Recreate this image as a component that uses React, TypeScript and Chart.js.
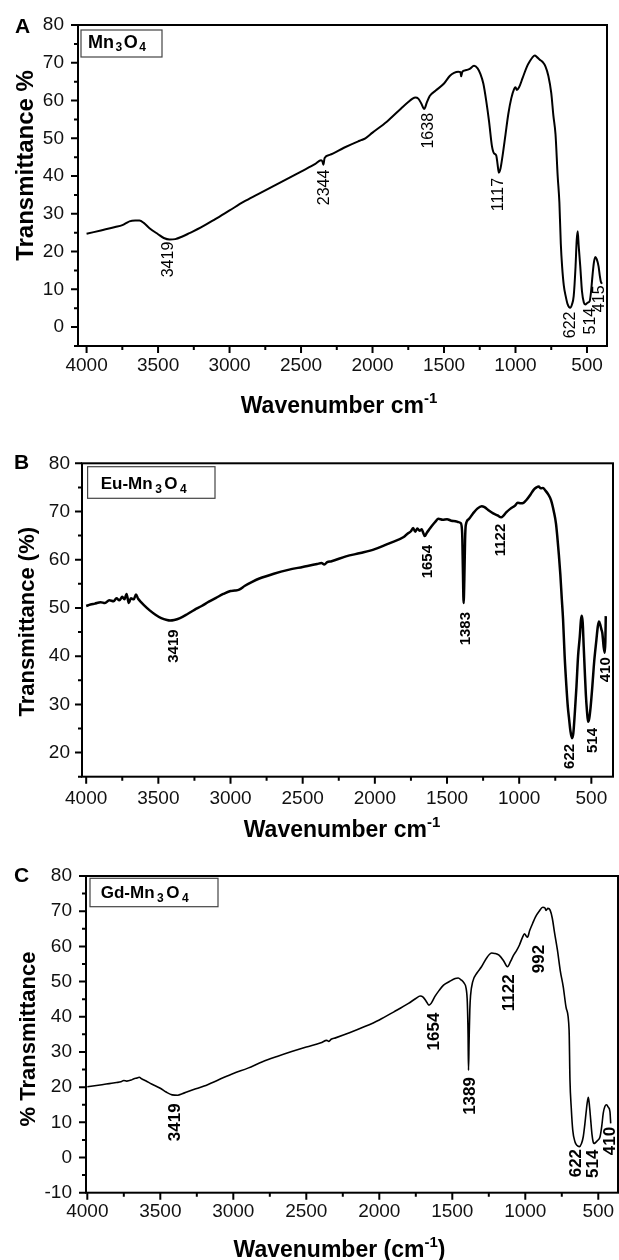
import React, { useEffect, useRef } from 'react';
import { Chart, registerables } from 'chart.js';

Chart.register(...registerables);

const FONT = '"Liberation Sans", Arial, Helvetica, sans-serif';

// ---------- shared tick labels ----------
const xMajorTicks = [4000, 3500, 3000, 2500, 2000, 1500, 1000, 500];
const xMinorTicks = [3750, 3250, 2750, 2250, 1750, 1250, 750];

// ---------- Panel A : Mn3O4 ----------
const aWave = [4000, 3900, 3800, 3750, 3720, 3700, 3660, 3630, 3600, 3560, 3500, 3460, 3419, 3380, 3330, 3280, 3200, 3100, 3000, 2900, 2800, 2700, 2600, 2500, 2400, 2360, 2350, 2344, 2335, 2300, 2200, 2100, 2080, 2050, 2000, 1900, 1800, 1750, 1720, 1700, 1680, 1660, 1638, 1620, 1600, 1560, 1500, 1460, 1430, 1400, 1385, 1380, 1372, 1350, 1320, 1290, 1265, 1245, 1225, 1205, 1185, 1165, 1150, 1135, 1125, 1117, 1105, 1090, 1070, 1050, 1030, 1010, 1000, 990, 975, 950, 920, 900, 880, 865, 850, 830, 810, 790, 770, 750, 735, 720, 705, 693, 683, 674, 662, 649, 635, 618, 605, 593, 580, 572, 565, 558, 547, 535, 522, 512, 495, 481, 470, 464, 452, 442, 432, 419, 410, 403, 395];
const aTrans = [24.7, 25.6, 26.5, 27.0, 27.6, 28.0, 28.2, 28.2, 27.6, 26.2, 24.6, 23.6, 23.2, 23.3, 24.0, 24.9, 26.4, 28.6, 30.9, 33.2, 35.2, 37.2, 39.2, 41.2, 43.2, 44.2, 43.8, 43.0, 44.8, 45.6, 47.5, 49.2, 49.5, 50.0, 51.5, 54.4, 57.9, 59.6, 60.5, 60.8, 60.5, 59.3, 57.8, 59.5, 61.2, 62.6, 64.5, 66.5, 67.3, 67.6, 67.5, 66.4, 67.6, 68.0, 68.4, 69.2, 68.5, 67.0, 64.5, 60.0, 54.5, 48.0, 46.0, 45.5, 43.0, 40.9, 42.0, 45.5, 51.0, 56.5, 60.5, 63.0, 63.5, 62.8, 63.5, 66.0, 69.0, 70.4, 71.5, 71.9, 71.5, 70.8, 70.2, 69.0, 66.5, 62.0, 56.0, 51.0, 40.0, 33.0, 22.0, 16.1, 11.0, 8.2, 6.0, 5.1, 6.0, 8.2, 16.0, 23.0, 25.4, 21.5, 16.1, 9.5, 6.5, 6.0, 6.5, 6.9, 10.0, 12.6, 17.0, 18.6, 18.0, 16.1, 13.5, 12.0, 11.5];
const aYMajor = [0, 10, 20, 30, 40, 50, 60, 70, 80];
const aYMinor = [-5, 5, 15, 25, 35, 45, 55, 65, 75];
const aPeakText = ['3419', '2344', '1638', '1117', '622', '514', '415'];
const aPeakWave = [3423, 2338, 1608, 1119, 616, 476, 411];
const aPeakTrans = [17.9, 37.0, 52.0, 35.1, 0.6, 1.6, 7.5];

// ---------- Panel B : Eu-Mn3O4 ----------
const bWave = [4000, 3970, 3940, 3900, 3870, 3840, 3810, 3790, 3770, 3750, 3735, 3720, 3705, 3690, 3670, 3655, 3640, 3620, 3600, 3560, 3520, 3480, 3440, 3419, 3390, 3350, 3300, 3250, 3200, 3150, 3100, 3050, 3000, 2970, 2940, 2900, 2850, 2800, 2700, 2600, 2500, 2400, 2370, 2350, 2330, 2300, 2200, 2100, 2000, 1900, 1800, 1770, 1750, 1735, 1720, 1705, 1690, 1675, 1665, 1654, 1640, 1620, 1600, 1580, 1560, 1530, 1500, 1470, 1440, 1420, 1405, 1395, 1390, 1385, 1380, 1375, 1370, 1350, 1320, 1290, 1260, 1240, 1210, 1180, 1150, 1125, 1110, 1090, 1060, 1030, 1010, 990, 970, 950, 920, 900, 880, 865, 850, 835, 820, 800, 780, 760, 745, 735, 725, 715, 705, 696, 685, 673, 663, 654, 645, 634, 625, 615, 603, 592, 580, 572, 566, 560, 553, 546, 538, 530, 523, 515, 505, 493, 480, 465, 455, 447, 438, 430, 424, 415, 407, 403, 400];
const bTrans = [50.4, 50.7, 50.9, 51.2, 51.0, 51.6, 51.4, 52.0, 51.6, 52.3, 51.8, 52.9, 51.0, 52.0, 51.8, 52.8, 51.9, 51.2, 50.6, 49.5, 48.6, 47.9, 47.5, 47.4, 47.5, 47.9, 48.7, 49.6, 50.4, 51.3, 52.1, 52.9, 53.5, 53.6, 53.8, 54.6, 55.4, 56.1, 57.1, 57.9, 58.5, 59.1, 59.3, 59.0, 59.5, 59.7, 60.7, 61.4, 62.2, 63.4, 64.7, 65.5, 65.9, 66.6, 65.8, 66.5, 66.0, 66.3, 65.6, 64.9, 65.6, 66.4, 67.2, 67.9, 68.5, 68.3, 68.4, 68.1, 68.0, 67.8, 67.6, 65.5, 58.0, 51.0, 56.0, 64.0, 67.2, 68.4, 69.6, 70.6, 71.1, 70.9, 70.2, 69.6, 69.2, 68.8, 69.1, 69.8, 70.6, 71.2, 71.8, 71.7, 71.8, 72.4, 73.6, 74.5, 75.0, 75.2, 74.8, 74.9, 74.4, 73.6, 72.4, 70.0, 67.5, 64.5, 61.0, 57.0, 52.0, 47.6, 40.0, 33.8, 29.5, 26.9, 24.5, 23.0, 24.0, 28.0, 33.8, 40.0, 44.1, 47.5, 48.4, 47.0, 42.0, 37.2, 32.0, 28.5, 26.4, 27.0, 29.5, 33.8, 39.0, 43.4, 46.2, 47.2, 46.5, 45.5, 44.8, 42.0, 40.7, 43.0, 48.3];
const bYMajor = [20, 30, 40, 50, 60, 70, 80];
const bYMinor = [15, 25, 35, 45, 55, 65, 75];
const bPeakText = ['3419', '1654', '1383', '1122', '622', '514', '410'];
const bPeakWave = [3394, 1631, 1371, 1125, 650, 492, 402];
const bPeakTrans = [42.1, 59.6, 45.7, 64.1, 19.2, 22.5, 37.2];

// ---------- Panel C : Gd-Mn3O4 ----------
const cWave = [4000, 3900, 3850, 3800, 3770, 3750, 3730, 3700, 3680, 3660, 3645, 3625, 3600, 3560, 3500, 3460, 3419, 3380, 3350, 3300, 3250, 3200, 3100, 3000, 2900, 2800, 2700, 2600, 2500, 2400, 2360, 2345, 2330, 2300, 2200, 2100, 2000, 1900, 1800, 1750, 1720, 1700, 1680, 1660, 1645, 1620, 1590, 1560, 1520, 1480, 1460, 1440, 1420, 1405, 1397, 1392, 1389, 1385, 1380, 1375, 1360, 1330, 1300, 1260, 1230, 1210, 1180, 1150, 1122, 1100, 1080, 1060, 1040, 1020, 1005, 995, 985, 970, 950, 930, 905, 880, 865, 858, 845, 830, 815, 800, 780, 760, 740, 720, 700, 694, 685, 675, 660, 645, 630, 615, 603, 592, 584, 576, 568, 560, 552, 543, 535, 530, 520, 505, 488, 476, 466, 455, 443, 432, 420, 415];
const cTrans = [20.1, 20.7, 21.0, 21.3, 21.5, 21.9, 21.7, 22.0, 22.4, 22.6, 22.8, 22.3, 21.8, 20.9, 19.7, 18.6, 17.8, 17.7, 18.1, 18.9, 19.6, 20.3, 22.1, 23.9, 25.4, 27.2, 28.7, 30.1, 31.4, 32.6, 33.3, 33.0, 33.6, 34.0, 35.5, 37.2, 39.1, 41.4, 43.8, 45.2, 45.9, 45.6, 44.5, 43.3, 43.8, 45.7, 47.5, 49.0, 50.0, 50.9, 51.0, 50.5, 49.6, 48.0, 44.0, 35.0, 24.8, 33.0, 42.0, 46.0, 50.0, 52.5, 54.2, 57.0, 58.1, 58.0, 57.5, 56.0, 54.2, 55.8, 57.5, 58.8, 60.4, 62.5, 63.6, 63.0, 62.6, 64.5, 66.5, 68.4, 70.0, 71.1, 70.9, 70.2, 70.8, 70.3, 68.0, 64.0, 59.0, 53.0, 48.5, 42.5, 36.2, 22.0, 14.0, 7.8, 4.5, 3.4, 3.1, 4.0, 5.9, 9.5, 12.6, 15.5, 17.1, 14.5, 10.7, 6.5, 4.4, 4.0, 4.2, 4.8, 5.9, 9.0, 12.6, 14.5, 15.0, 14.3, 13.0, 9.7];
const cYMajor = [-10, 0, 10, 20, 30, 40, 50, 60, 70, 80];
const cYMinor = [-5, 5, 15, 25, 35, 45, 55, 65, 75];
const cPeakText = ['3419', '1654', '1389', '1122', '992', '622', '514', '410'];
const cPeakWave = [3395, 1625, 1380, 1110, 907, 648, 534, 415];
const cPeakTrans = [10.0, 35.8, 17.5, 46.8, 56.4, -1.6, -1.8, 4.7];

type Seg = { t: string; size: number; dy: number };

interface Panel {
  letter: string;
  top: number;
  height: number;
  wave: number[];
  trans: number[];
  xMin: number;
  xMax: number;
  yMin: number;
  yMax: number;
  yMajor: number[];
  yMinor: number[];
  peakText: string[];
  peakWave: number[];
  peakTrans: number[];
  peakBold: boolean;
  peakSize: number;
  lineWidth: number;
  area: { left: number; top: number; right: number; bottom: number };
  xPad: number;
  yPad: number;
  letterPos: [number, number];
  legendBox: [number, number, number, number];
  legendPos: [number, number];
  legendSegs: Seg[];
  legendGap: number;
  yTitle: string;
  yTitleSize: number;
  yTitlePos: [number, number];
  xTitleSegs: Seg[];
  xTitlePos: [number, number];
}

const W = 619;

const panels: Panel[] = [
  {
    letter: 'A', top: 0, height: 430,
    wave: aWave, trans: aTrans, xMin: 360, xMax: 4060, yMin: -5, yMax: 80,
    yMajor: aYMajor, yMinor: aYMinor,
    peakText: aPeakText, peakWave: aPeakWave, peakTrans: aPeakTrans, peakBold: false, peakSize: 16,
    lineWidth: 2,
    area: { left: 78, top: 25, right: 607, bottom: 346 },
    xPad: 8, yPad: 14,
    letterPos: [15, 33],
    legendBox: [81, 30, 162, 57],
    legendPos: [88, 47.5],
    legendSegs: [{ t: 'Mn', size: 18, dy: 0 }, { t: '3', size: 12, dy: 3.5 }, { t: 'O', size: 18, dy: 0 }, { t: '4', size: 12, dy: 3.5 }],
    legendGap: 1.5,
    yTitle: 'Transmittance %', yTitleSize: 24, yTitlePos: [33, 165.5],
    xTitleSegs: [{ t: 'Wavenumber cm', size: 23, dy: 0 }, { t: '-1', size: 15, dy: -10 }],
    xTitlePos: [339, 412.5],
  },
  {
    letter: 'B', top: 430, height: 420,
    wave: bWave, trans: bTrans, xMin: 350, xMax: 4029, yMin: 15, yMax: 80,
    yMajor: bYMajor, yMinor: bYMinor,
    peakText: bPeakText, peakWave: bPeakWave, peakTrans: bPeakTrans, peakBold: true, peakSize: 15,
    lineWidth: 2.5,
    area: { left: 82, top: 33.3, right: 613, bottom: 346.7 },
    xPad: 11, yPad: 12,
    letterPos: [14, 39.3],
    legendBox: [87.6, 36.7, 215, 68.3],
    legendPos: [100.7, 59.3],
    legendSegs: [{ t: 'Eu-Mn', size: 17, dy: 0 }, { t: '3', size: 12, dy: 3.5 }, { t: 'O', size: 17, dy: 0 }, { t: '4', size: 12, dy: 3.5 }],
    legendGap: 2.5,
    yTitle: 'Transmittance (%)', yTitleSize: 22, yTitlePos: [33.5, 191.7],
    xTitleSegs: [{ t: 'Wavenumber cm', size: 23, dy: 0 }, { t: '-1', size: 15, dy: -10 }],
    xTitlePos: [342, 407],
  },
  {
    letter: 'C', top: 850, height: 410,
    wave: cWave, trans: cTrans, xMin: 365, xMax: 4009, yMin: -10, yMax: 80,
    yMajor: cYMajor, yMinor: cYMinor,
    peakText: cPeakText, peakWave: cPeakWave, peakTrans: cPeakTrans, peakBold: true, peakSize: 17,
    lineWidth: 1.6,
    area: { left: 86, top: 26, right: 618, bottom: 342.7 },
    xPad: 8, yPad: 14,
    letterPos: [14, 31.7],
    legendBox: [90, 28.3, 218, 56.7],
    legendPos: [100.7, 48.3],
    legendSegs: [{ t: 'Gd-Mn', size: 17, dy: 0 }, { t: '3', size: 12, dy: 3.5 }, { t: 'O', size: 17, dy: 0 }, { t: '4', size: 12, dy: 3.5 }],
    legendGap: 2.5,
    yTitle: '% Transmittance', yTitleSize: 22, yTitlePos: [35, 189],
    xTitleSegs: [{ t: 'Wavenumber (cm', size: 23, dy: 0 }, { t: '-1', size: 15, dy: -10 }, { t: ')', size: 23, dy: 0 }],
    xTitlePos: [339.5, 406.7],
  },
];

function drawSegs(ctx: CanvasRenderingContext2D, segs: Seg[], x: number, y: number, center: boolean, gap: number) {
  const widths = segs.map((s) => {
    ctx.font = `bold ${s.size}px ${FONT}`;
    return ctx.measureText(s.t).width;
  });
  const total = widths.reduce((a, b) => a + b, 0) + gap * (segs.length - 1);
  let cx = center ? x - total / 2 : x;
  ctx.textAlign = 'left';
  ctx.textBaseline = 'alphabetic';
  segs.forEach((s, i) => {
    ctx.font = `bold ${s.size}px ${FONT}`;
    ctx.fillText(s.t, cx, y + s.dy);
    cx += widths[i] + gap;
  });
}

function makeDecor(p: Panel) {
  return {
    id: 'decor' + p.letter,
    afterDraw(chart: any) {
      const ctx: CanvasRenderingContext2D = chart.ctx;
      const ca = chart.chartArea;
      const xs = chart.scales.x;
      const ys = chart.scales.y;
      ctx.save();
      ctx.fillStyle = '#000';
      ctx.strokeStyle = '#000';
      // frame
      ctx.lineWidth = 2;
      ctx.strokeRect(ca.left, ca.top, ca.right - ca.left, ca.bottom - ca.top);
      // ticks
      ctx.beginPath();
      xMajorTicks.forEach((v) => {
        const x = xs.getPixelForValue(v);
        ctx.moveTo(x, ca.bottom);
        ctx.lineTo(x, ca.bottom + 7);
      });
      xMinorTicks.forEach((v) => {
        const x = xs.getPixelForValue(v);
        ctx.moveTo(x, ca.bottom);
        ctx.lineTo(x, ca.bottom + 4);
      });
      p.yMajor.forEach((v) => {
        const y = ys.getPixelForValue(v);
        ctx.moveTo(ca.left, y);
        ctx.lineTo(ca.left - 7, y);
      });
      p.yMinor.forEach((v) => {
        const y = ys.getPixelForValue(v);
        ctx.moveTo(ca.left, y);
        ctx.lineTo(ca.left - 4, y);
      });
      ctx.stroke();
      // panel letter
      ctx.font = `bold 21px ${FONT}`;
      ctx.textAlign = 'left';
      ctx.textBaseline = 'alphabetic';
      ctx.fillText(p.letter, p.letterPos[0], p.letterPos[1]);
      // legend box
      const [bx0, by0, bx1, by1] = p.legendBox;
      ctx.fillStyle = '#fff';
      ctx.fillRect(bx0, by0, bx1 - bx0, by1 - by0);
      ctx.lineWidth = 1.2;
      ctx.strokeStyle = '#444';
      ctx.strokeRect(bx0, by0, bx1 - bx0, by1 - by0);
      ctx.fillStyle = '#000';
      drawSegs(ctx, p.legendSegs, p.legendPos[0], p.legendPos[1], false, p.legendGap);
      // y title
      ctx.save();
      ctx.translate(p.yTitlePos[0], p.yTitlePos[1]);
      ctx.rotate(-Math.PI / 2);
      ctx.font = `bold ${p.yTitleSize}px ${FONT}`;
      ctx.textAlign = 'center';
      ctx.textBaseline = 'alphabetic';
      ctx.fillText(p.yTitle, 0, 0);
      ctx.restore();
      // x title
      drawSegs(ctx, p.xTitleSegs, p.xTitlePos[0], p.xTitlePos[1], true, 0);
      // peak annotations
      ctx.font = `${p.peakBold ? 'bold ' : ''}${p.peakSize}px ${FONT}`;
      p.peakText.forEach((t, i) => {
        const x = xs.getPixelForValue(p.peakWave[i]);
        const y = ys.getPixelForValue(p.peakTrans[i]);
        ctx.save();
        ctx.translate(x, y);
        ctx.rotate(-Math.PI / 2);
        ctx.textAlign = 'center';
        ctx.textBaseline = 'middle';
        ctx.fillText(t, 0, 0);
        ctx.restore();
      });
      ctx.restore();
    },
  };
}

function PanelChart({ p }: { p: Panel }) {
  const ref = useRef<HTMLCanvasElement | null>(null);
  useEffect(() => {
    if (!ref.current) return;
    const a = p.area;
    const chart = new Chart(ref.current, {
      type: 'line',
      data: {
        datasets: [
          {
            data: p.wave.map((w, i) => ({ x: w, y: p.trans[i] })),
            borderColor: '#000',
            borderWidth: p.lineWidth,
            pointRadius: 0,
            fill: false,
            cubicInterpolationMode: 'monotone',
          },
        ],
      },
      options: {
        responsive: false,
        animation: false,
        devicePixelRatio: 1,
        layout: { padding: { left: 0, top: a.top, right: W - a.right, bottom: 0 } },
        plugins: { legend: { display: false }, tooltip: { enabled: false }, title: { display: false } },
        scales: {
          x: {
            type: 'linear',
            reverse: true,
            min: p.xMin,
            max: p.xMax,
            grid: { display: false, drawTicks: false },
            border: { display: false },
            ticks: {
              font: { family: FONT, size: 19 },
              color: '#111',
              padding: p.xPad,
              maxRotation: 0,
              autoSkip: false,
              callback: (v: any) => String(v),
            },
            afterBuildTicks: (s: any) => {
              s.ticks = xMajorTicks.map((v) => ({ value: v }));
            },
            afterFit: (s: any) => {
              s.height = p.height - a.bottom;
              s.paddingLeft = 0;
              s.paddingRight = 0;
            },
          },
          y: {
            type: 'linear',
            min: p.yMin,
            max: p.yMax,
            grid: { display: false, drawTicks: false },
            border: { display: false },
            ticks: {
              font: { family: FONT, size: 19 },
              color: '#111',
              padding: p.yPad,
              autoSkip: false,
              callback: (v: any) => String(v),
            },
            afterBuildTicks: (s: any) => {
              s.ticks = p.yMajor.map((v) => ({ value: v }));
            },
            afterFit: (s: any) => {
              s.width = a.left;
              s.paddingTop = 0;
              s.paddingBottom = 0;
            },
          },
        },
      } as any,
      plugins: [makeDecor(p)],
    });
    return () => chart.destroy();
  }, [p]);
  return (
    <canvas
      ref={ref}
      width={W}
      height={p.height}
      style={{ position: 'absolute', left: 0, top: p.top, width: W, height: p.height, display: 'block' }}
    />
  );
}

export default function App() {
  return (
    <div style={{ position: 'absolute', left: 0, top: 0, width: W, height: 1260, background: '#fff' }}>
      {panels.map((p) => (
        <PanelChart key={p.letter} p={p} />
      ))}
    </div>
  );
}
